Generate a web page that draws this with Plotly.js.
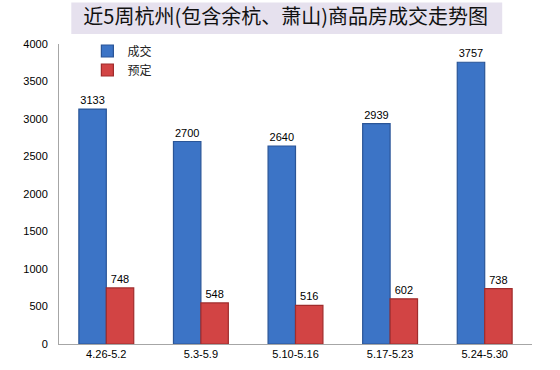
<!DOCTYPE html>
<html>
<head>
<meta charset="utf-8">
<script src="https://cdn.plot.ly/plotly-3.0.1.min.js"></script>
<style>html,body{margin:0;padding:0;background:#fff;}#chart{width:560px;height:370px;}</style>
</head>
<body>
<div id="chart"></div>
<script>
var categories = ["4.26-5.2", "5.3-5.9", "5.10-5.16", "5.17-5.23", "5.24-5.30"];
var dealValues = [3133, 2700, 2640, 2939, 3757];
var bookValues = [748, 548, 516, 602, 738];
var seriesNames = ["成交", "预定"];
var yTicks = [0, 500, 1000, 1500, 2000, 2500, 3000, 3500, 4000];
var titleText = "近5周杭州(包含余杭、萧山)商品房成交走势图";

var labelFont = {family: "Liberation Sans, Arial, sans-serif", size: 11, color: "#000"};

var traces = [
  {
    type: "bar", name: seriesNames[0], x: categories, y: dealValues,
    marker: {color: "#3c74c6", line: {color: "#2a5597", width: 1.2}},
    text: dealValues.map(String), textposition: "outside", cliponaxis: false,
    textfont: labelFont
  },
  {
    type: "bar", name: seriesNames[1], x: categories, y: bookValues,
    marker: {color: "#d24444", line: {color: "#a02c2c", width: 1.2}},
    text: bookValues.map(String), textposition: "outside", cliponaxis: false,
    textfont: labelFont
  }
];

var layout = {
  width: 560, height: 370,
  paper_bgcolor: "#ffffff", plot_bgcolor: "#ffffff",
  margin: {l: 59, r: 28, t: 44, b: 26},
  barmode: "group", bargap: 0.42, bargroupgap: 0,
  showlegend: true,
  legend: {
    x: 0.06, y: 1.025, xanchor: "left", yanchor: "top",
    bgcolor: "rgba(0,0,0,0)", font: {family: "Noto Sans CJK SC, sans-serif", size: 12, color: "#222"},
    tracegroupgap: 0, itemwidth: 30
  },
  title: {
    text: titleText, x: 0.51, xanchor: "center", y: 0.955, yanchor: "middle",
    font: {family: "Noto Sans CJK SC, sans-serif", size: 20, color: "#111"}
  },
  shapes: [
    {type: "rect", xref: "paper", yref: "paper", x0: 0.026, x1: 0.937, y0: 1.033, y1: 1.138,
     fillcolor: "#e6e1ee", line: {width: 0}, layer: "below"}
  ],
  xaxis: {
    type: "category", showline: true, linecolor: "#a6a6a6", linewidth: 1,
    ticks: "", showgrid: false, zeroline: false,
    tickfont: labelFont
  },
  yaxis: {
    range: [0, 4000], tickvals: yTicks, ticktext: yTicks.map(String),
    showline: true, linecolor: "#a6a6a6", linewidth: 1, ticks: "",
    showgrid: false, zeroline: false, ticklabelstandoff: 8,
    tickfont: labelFont
  }
};

Plotly.newPlot("chart", traces, layout, {displayModeBar: false, staticPlot: true});
</script>
</body>
</html>
